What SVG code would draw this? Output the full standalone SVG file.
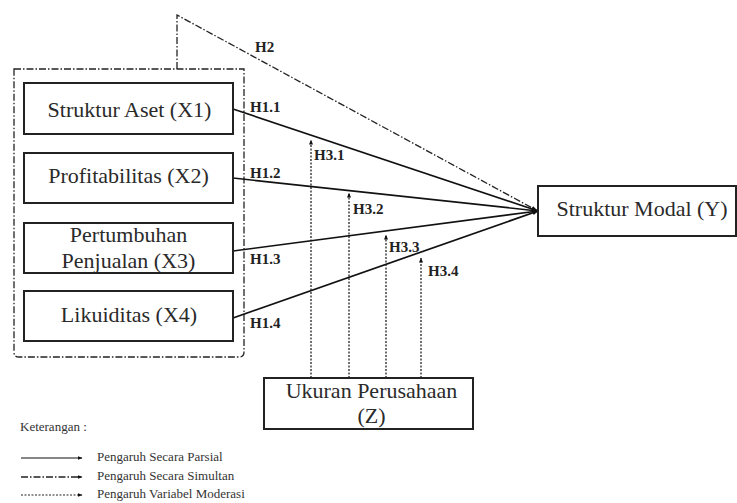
<svg xmlns="http://www.w3.org/2000/svg" width="737" height="503" viewBox="0 0 737 503">
<defs>
<marker id="ah" viewBox="0 0 10 10" refX="9" refY="5" markerWidth="6" markerHeight="6" markerUnits="userSpaceOnUse" orient="auto"><path d="M0,1 L10,5 L0,9 z" fill="#111"/></marker>
<marker id="ahs" viewBox="0 0 10 10" refX="9" refY="5" markerWidth="5" markerHeight="5" markerUnits="userSpaceOnUse" orient="auto"><path d="M0,1 L10,5 L0,9 z" fill="#111"/></marker>
</defs>
<style>
.box{fill:#fff;stroke:#222;stroke-width:2}
text{font-family:"Liberation Serif","Times New Roman","DejaVu Serif",serif}
.t{font-size:22px;fill:#2a2a2a;text-anchor:middle}
.h{font-size:15px;font-weight:bold;fill:#222}
.l{font-size:13px;fill:#333}
.solid{stroke:#111;stroke-width:1.7;fill:none}
.dd{stroke:#222;stroke-width:1.3;fill:none;stroke-dasharray:7,2,1.5,2}
.dot{stroke:#222;stroke-width:1.3;fill:none;stroke-dasharray:2,1.5}
</style>
<rect width="737" height="503" fill="#fff"/>
<g id="connectors">
<path class="dd" d="M14,69 H244 V352 Q244,357 239,357 H19 Q14,357 14,352 Z"/>
<path class="dd" d="M177,69 V15 L536,210" marker-end="url(#ahs)"/>
<line class="solid" x1="233" y1="109" x2="538" y2="211" marker-end="url(#ah)"/>
<line class="solid" x1="233" y1="178" x2="538" y2="211" marker-end="url(#ah)"/>
<line class="solid" x1="233" y1="251" x2="538" y2="211" marker-end="url(#ah)"/>
<line class="solid" x1="233" y1="318" x2="538" y2="211" marker-end="url(#ah)"/>
<line class="dot" x1="311" y1="378" x2="311" y2="140" marker-end="url(#ahs)"/>
<line class="dot" x1="349" y1="378" x2="349" y2="193" marker-end="url(#ahs)"/>
<line class="dot" x1="386" y1="378" x2="386" y2="235" marker-end="url(#ahs)"/>
<line class="dot" x1="421" y1="378" x2="421" y2="258" marker-end="url(#ahs)"/>
<text class="h" x="255" y="52">H2</text>
<text class="h" x="250" y="112">H1.1</text>
<text class="h" x="250" y="178">H1.2</text>
<text class="h" x="250" y="264">H1.3</text>
<text class="h" x="250" y="328">H1.4</text>
<text class="h" x="314" y="160">H3.1</text>
<text class="h" x="353" y="214">H3.2</text>
<text class="h" x="389" y="252">H3.3</text>
<text class="h" x="428" y="276">H3.4</text>
</g>
<g id="x1"><rect class="box" x="24" y="83" width="209" height="51"/><text class="t" x="129.5" y="117">Struktur Aset (X1)</text></g>
<g id="x2"><rect class="box" x="24" y="153" width="209" height="50"/><text class="t" x="128.5" y="183">Profitabilitas (X2)</text></g>
<g id="x3"><rect class="box" x="24" y="223" width="209" height="50"/><text class="t" x="128.5" y="242">Pertumbuhan</text><text class="t" x="128.5" y="268">Penjualan (X3)</text></g>
<g id="x4"><rect class="box" x="24" y="291" width="209" height="50"/><text class="t" x="129" y="322">Likuiditas (X4)</text></g>
<g id="y"><rect class="box" x="538" y="186" width="198" height="50"/><text class="t" x="642" y="216">Struktur Modal (Y)</text></g>
<g id="z"><rect class="box" x="264" y="378" width="209" height="51"/><text class="t" x="371.5" y="398">Ukuran Perusahaan</text><text class="t" x="371.5" y="423">(Z)</text></g>
<g id="legend">
<text class="l" x="20" y="431">Keterangan :</text>
<line class="solid" style="stroke-width:1.2" x1="21" y1="458" x2="82" y2="458" marker-end="url(#ahs)"/>
<line class="dd" x1="21" y1="477" x2="82" y2="477" marker-end="url(#ahs)"/>
<line class="dot" style="stroke-width:1" x1="21" y1="495" x2="82" y2="495" marker-end="url(#ahs)"/>
<text class="l" x="97" y="461">Pengaruh Secara Parsial</text>
<text class="l" x="97" y="480">Pengaruh Secara Simultan</text>
<text class="l" x="97" y="498">Pengaruh Variabel Moderasi</text>
</g>
</svg>
